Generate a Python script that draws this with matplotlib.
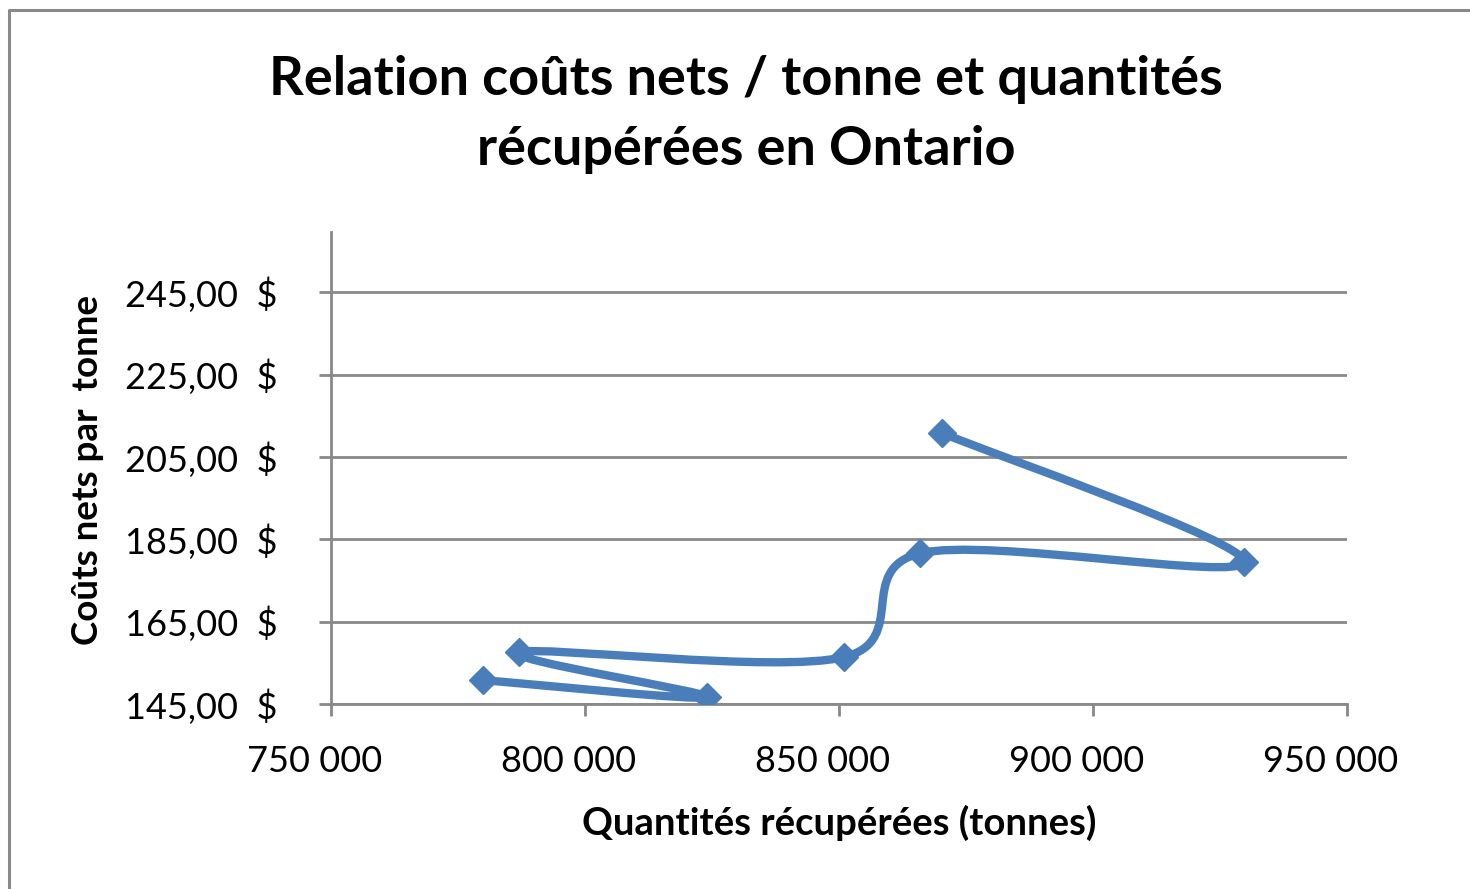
import numpy as np
import matplotlib
matplotlib.use('Agg')
from matplotlib import pyplot as plt
from matplotlib.path import Path
from matplotlib.patches import PathPatch
from matplotlib.lines import Line2D
from matplotlib.ticker import FuncFormatter
from matplotlib.transforms import ScaledTranslation

plt.rcParams['font.family'] = ['Lato', 'DejaVu Sans']

# data (order of the series as drawn)
quantites = [780000, 824000, 787000, 851000, 866000, 929700, 870300]
couts = [150.8, 146.7, 157.6, 156.4, 181.6, 179.5, 210.8]

title_lines = ['Relation coûts nets / tonne et quantités', 'récupérées en Ontario']
x_label = 'Quantités récupérées (tonnes)'
y_label = 'Coûts nets par  tonne'
x_ticks = [750000, 800000, 850000, 900000, 950000]
y_ticks = [145, 165, 185, 205, 225, 245]

BLUE = '#4a7ebb'
GRAY = '#898989'

W, H = 1470, 889
fig = plt.figure(figsize=(W / 100, H / 100), dpi=100)
ax = fig.add_axes([331 / W, 1 - 704 / H, (1347 - 331) / W, (704 - 232) / H])


def smooth_path(xs, ys):
    # Catmull-Rom style bezier, like the "smoothed line" option of a spreadsheet
    pts = np.column_stack([xs, ys]).astype(float)
    n = len(pts)
    verts = [pts[0]]
    codes = [Path.MOVETO]
    for i in range(n - 1):
        p0 = pts[i - 1] if i > 0 else pts[i]
        p1 = pts[i]
        p2 = pts[i + 1]
        p3 = pts[i + 2] if i + 2 < n else pts[i + 1]
        c1 = p1 + (p2 - p0) / 6
        c2 = p2 - (p3 - p1) / 6
        verts += [c1, c2, p2]
        codes += [Path.CURVE4] * 3
    return Path(verts, codes)


ax.add_patch(PathPatch(smooth_path(quantites, couts), facecolor='none',
                       edgecolor=BLUE, lw=6.0, capstyle='round', joinstyle='round', zorder=3))
ax.plot(quantites, couts, linestyle='none', marker='D', markersize=14,
        color=BLUE, zorder=4)

ax.set_xlim(750000, 950000)
ax.set_ylim(145, 259.6)
ax.set_xticks(x_ticks)
ax.set_yticks(y_ticks)
ax.xaxis.set_major_formatter(FuncFormatter(lambda v, p: f'{v:,.0f}'.replace(',', ' ')))
ax.yaxis.set_major_formatter(FuncFormatter(lambda v, p: f'{v:.2f}'.replace('.', ',') + '  $'))

ax.grid(axis='y', color=GRAY, lw=2.0)
ax.set_axisbelow(True)
for side in ['top', 'right']:
    ax.spines[side].set_visible(False)
for side in ['left', 'bottom']:
    ax.spines[side].set_color(GRAY)
    ax.spines[side].set_linewidth(2.0)
ax.tick_params(axis='both', colors=GRAY, width=2.0, length=8.5, labelsize=26,
               labelcolor='black')
ax.tick_params(axis='y', pad=30)
ax.tick_params(axis='x', pad=21)

# x tick labels sit a bit left of their ticks in the original
shift = ScaledTranslation(-16 / 100, 0, fig.dpi_scale_trans)
for tick in ax.xaxis.get_major_ticks():
    tick.label1.set_transform(tick.label1.get_transform() + shift)

fig.text(746 / W, 1 - 95 / H, title_lines[0], ha='center', va='baseline', fontsize=39,
         fontweight='bold')
fig.text(746 / W, 1 - 165 / H, title_lines[1], ha='center', va='baseline', fontsize=39,
         fontweight='bold')
fig.text(839 / W, 1 - 835 / H, x_label, ha='center', va='baseline', fontsize=27.5,
         fontweight='bold')
fig.text(88 / W, 1 - 470 / H, y_label, ha='center', va='center', fontsize=26.5,
         fontweight='bold', rotation=90)

# chart area border (only left and top edges are in the picture)
fig.add_artist(Line2D([9 / W, 9 / W, 1], [0, 1 - 10 / H, 1 - 10 / H],
                      transform=fig.transFigure, color=GRAY, lw=2.2))

fig.savefig('out.png', dpi=100)
